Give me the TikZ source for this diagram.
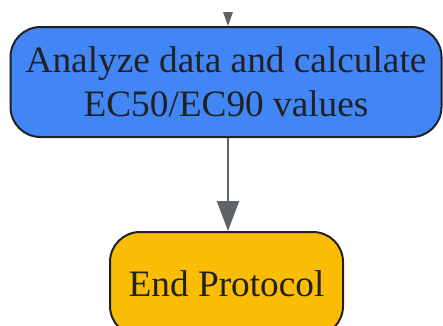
\documentclass[tikz,border=0pt]{standalone}
\usepackage{fontspec}
\setmainfont{Liberation Serif}
\usetikzlibrary{arrows.meta}
\definecolor{bluebox}{HTML}{4285F4}
\definecolor{orangebox}{HTML}{FBBC05}
\definecolor{txt}{HTML}{202124}
\definecolor{arr}{HTML}{5F6368}
\begin{document}
\begin{tikzpicture}[x=1pt,y=-1pt,
  box/.style={draw=txt,line width=2pt,rounded corners=30pt,text=txt,align=center,inner sep=0pt},
  conn/.style={draw=arr,line width=2pt,-{Triangle[width=22pt,length=30pt]}}]
\useasboundingbox (0,0) rectangle (443,325);
\clip (0,0) rectangle (443,325);
\node[box,fill=bluebox,minimum width=431pt,minimum height=110pt,font=\fontsize{37.3}{44}\selectfont] (a) at (226,82) {Analyze data and calculate\\EC50/EC90 values};
\node[box,fill=orangebox,minimum width=233pt,minimum height=104pt,font=\fontsize{37.3}{44}\selectfont] (b) at (226.5,284) {End Protocol};
\coordinate (top) at (228,12);
\fill[arr] (top) ++(-5,0) -- ++(10,0) -- (a.north -| top) -- cycle;
\draw[conn] (a.south -| top) -- (b.north -| top);
\end{tikzpicture}
\end{document}
